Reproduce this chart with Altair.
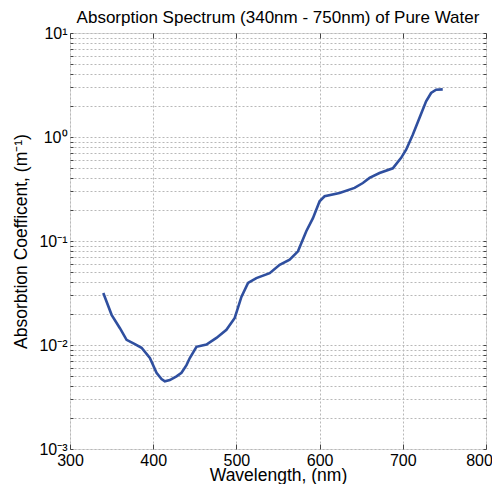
import altair as alt
import pandas as pd

wavelength = [340, 350, 360, 368, 378, 386, 396, 404, 410, 414, 420, 428, 434, 440, 444, 452,
              464, 476, 488, 498, 506, 514, 524, 540, 552, 564, 574, 584, 592, 600, 606,
              624, 642, 652, 660, 672, 688, 698, 704, 712, 720, 728, 734, 740, 748]
absorption = [0.0316, 0.0195, 0.0145, 0.0112, 0.0102, 0.0094, 0.0075, 0.0054, 0.0047, 0.00448,
              0.0046, 0.0050, 0.0054, 0.0064, 0.0075, 0.0096, 0.0101, 0.0117, 0.0140, 0.0182,
              0.029, 0.0395, 0.044, 0.049, 0.059, 0.066, 0.0796, 0.124, 0.166, 0.241, 0.269,
              0.290, 0.324, 0.361, 0.404, 0.45, 0.50, 0.63, 0.755, 1.05, 1.52, 2.2, 2.65, 2.85, 2.87]

x_ticks = [300, 400, 500, 600, 700, 800]
y_ticks = [m * 10.0 ** e for e in range(-3, 1) for m in range(1, 10)] + [10.0]

df = pd.DataFrame({"wl": wavelength, "a": absorption})

font = "Liberation Sans"
label_expr = ("abs(datum.value-0.001)<1e-9 ? '10⁻³' : abs(datum.value-0.01)<1e-8 ? '10⁻²' : "
              "abs(datum.value-0.1)<1e-7 ? '10⁻¹' : abs(datum.value-1)<1e-6 ? '10⁰' : "
              "abs(datum.value-10)<1e-5 ? '10¹' : ''")

xs = alt.Scale(domain=[300, 800], nice=False)
ys = alt.Scale(type="log", domain=[0.001, 10], nice=False)

grid_style = dict(grid=True, gridColor="#b8b8b8", gridDash=[2, 2], gridWidth=1)
inx = {"expr": "-5"}
iny = {"expr": "-3"}

line = alt.Chart(df).mark_line(color="#2f4f9f", strokeWidth=2.6).encode(
    x=alt.X("wl:Q", scale=xs, title="Wavelength, (nm)",
            axis=alt.Axis(values=x_ticks, tickSize=inx, labelFontSize=16, titleFontSize=17.5,
                          labelPadding=8, titlePadding=-2, domain=False, tickColor="#444",
                          labelColor="#000", titleColor="#000", titleFontWeight="normal",
                          labelFont=font, titleFont=font, labelFlush=False,
                          labelOffset={"condition": {"test": "datum.value == 800", "value": -7},
                                       "value": 0},
                          **grid_style)),
    y=alt.Y("a:Q", scale=ys, title="Absorbtion Coefficent, (m⁻¹)",
            axis=alt.Axis(values=y_ticks, labelExpr=label_expr, tickSize=iny,
                          labelFontSize=16, titleFontSize=17.5, labelPadding=6, titlePadding=8,
                          domain=False, tickColor="#444", labelColor="#000", titleColor="#000",
                          titleFontWeight="normal", labelFont=font, titleFont=font,
                          labelBaseline="middle", **grid_style)),
)

frame = alt.Chart(df).mark_line(opacity=0).encode(
    x=alt.X("wl:Q", scale=xs,
            axis=alt.Axis(orient="top", values=x_ticks, labels=False, title=None, grid=False,
                          tickSize=inx, domain=False, tickColor="#444")),
    y=alt.Y("a:Q", scale=ys,
            axis=alt.Axis(orient="right", values=y_ticks, labels=False, title=None, grid=False,
                          tickSize=iny, domain=False, tickColor="#444")),
)

chart = alt.layer(line, frame).resolve_axis(x="independent", y="independent").properties(
    width=416, height=416,
    autosize=alt.AutoSizeParams(type="none"),
    padding={"left": 62, "top": 25, "right": 6, "bottom": 35},
    title=alt.TitleParams("Absorption Spectrum (340nm - 750nm) of Pure Water",
                          font=font, fontSize=17, fontWeight="normal", color="#000",
                          anchor="middle", offset=-2),
).configure_view(stroke="#444", strokeWidth=1.5).configure(background="white")

chart.save("out.html", embed_options={"renderer": "svg", "actions": False})
